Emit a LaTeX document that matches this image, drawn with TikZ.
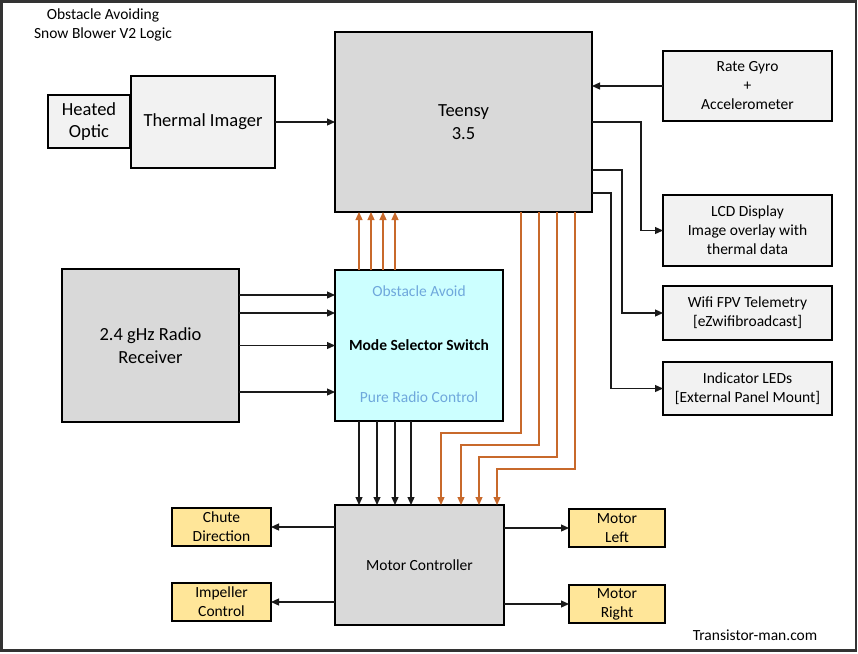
\documentclass[tikz,border=0pt]{standalone}
\usepackage{fontspec}
\setmainfont{Carlito}
\usetikzlibrary{arrows.meta}
\definecolor{gfill}{HTML}{D9D9D9}
\definecolor{lfill}{HTML}{F2F2F2}
\definecolor{yfill}{HTML}{FFE699}
\definecolor{cfill}{HTML}{CCFFFF}
\definecolor{oline}{HTML}{C8692B}
\definecolor{btxt}{HTML}{6FA8DC}
\definecolor{cline}{HTML}{1A1A1A}
\tikzset{
  box/.style={draw=black, line width=2pt, outer sep=0pt, inner sep=2pt, align=center},
  bigtxt/.style={font=\fontsize{18.5}{22.6}\selectfont},
  smtxt/.style={font=\fontsize{15.5}{19}\selectfont},
  conn/.style={draw=cline, line width=1.2pt, -{Triangle[length=8pt,width=7pt]}},
  oconn/.style={draw=oline, line width=1.2pt, -{Triangle[length=8pt,width=7pt]}}
}
\begin{document}
\begin{tikzpicture}[x=1pt,y=-1pt]
\useasboundingbox (0,0) rectangle (858,653);
\draw[line width=2.5pt, color=black!80] (1.5,1.5) rectangle (856,650.5);

\node[smtxt, align=center] (title) at (103,24.5) {Obstacle Avoiding\\Snow Blower V2 Logic};

\node[box, bigtxt, fill=lfill, minimum width=82pt, minimum height=53pt] (ho) at (89,121.5) {Heated\\Optic};
\node[box, bigtxt, fill=lfill, minimum width=144pt, minimum height=92pt] (ti) at (203,122) {Thermal Imager};
\node[box, bigtxt, fill=gfill, minimum width=257pt, minimum height=180pt] (teensy) at (463.5,122) {Teensy\\3.5};

\node[box, smtxt, fill=lfill, minimum width=169pt, minimum height=70pt] (gyro) at (747.5,86) {Rate Gyro\\+\\Accelerometer};
\node[box, smtxt, fill=lfill, minimum width=169pt, minimum height=71pt] (lcd) at (747.5,230.5) {LCD Display\\Image overlay with\\thermal data};
\node[box, smtxt, fill=lfill, minimum width=169pt, minimum height=54pt] (wifi) at (747.5,313) {Wifi FPV Telemetry\\{[}eZwifibroadcast{]}};
\node[box, smtxt, fill=lfill, minimum width=169pt, minimum height=53pt] (led) at (747.5,388.5) {Indicator LEDs\\{[}External Panel Mount{]}};

\node[box, bigtxt, fill=gfill, minimum width=177pt, minimum height=153pt] (radio) at (150.5,345.5) {2.4 gHz Radio\\Receiver};
\node[box, fill=cfill, minimum width=168pt, minimum height=151pt] (ms) at (419,345.5) {};
\node[smtxt, text=btxt] (msa) at (419,291) {Obstacle Avoid};
\node[smtxt, font=\fontsize{15.5}{19}\selectfont\bfseries] (msm) at (419,345) {Mode Selector Switch};
\node[smtxt, text=btxt] (msp) at (419,397) {Pure Radio Control};

\node[box, smtxt, fill=gfill, minimum width=169pt, minimum height=120pt] (mc) at (419.5,565) {Motor Controller};
\node[box, smtxt, fill=yfill, minimum width=99pt, minimum height=38pt] (chute) at (221.5,527) {Chute\\Direction};
\node[box, smtxt, fill=yfill, minimum width=99pt, minimum height=38pt] (imp) at (221.5,602) {Impeller\\Control};
\node[box, smtxt, fill=yfill, minimum width=96pt, minimum height=38pt] (ml) at (617,528) {Motor\\Left};
\node[box, smtxt, fill=yfill, minimum width=96pt, minimum height=38pt] (mr) at (617,604) {Motor\\Right};

\node[smtxt] (credit) at (755,635) {Transistor-man.com};

% connectors
\draw[conn] (ti.east) -- (teensy.west);
\draw[conn] (gyro.west) -- (gyro.west -| teensy.east);
\draw[conn] (teensy.east) -| ([xshift=-22pt]lcd.west) -- (lcd.west);
\draw[conn] ([yshift=-48pt]teensy.east) -| ([xshift=-41pt]wifi.west) -- (wifi.west);
\draw[conn] ([yshift=-71pt]teensy.east) -| ([xshift=-52pt]led.west) -- (led.west);

\foreach \dy in {50.5,32.5,0,-46.5}
  \draw[conn] ([yshift=\dy pt]radio.east) -- ([yshift=\dy pt]ms.west);

\foreach \dx in {24,36,48,60}
  \draw[oconn] ([xshift=\dx pt]ms.north west) -- ([xshift=\dx pt]teensy.south west);

\foreach \dx in {24,42,60,76}
  \draw[conn] ([xshift=\dx pt]ms.south west) -- ([xshift=\dx pt]mc.north west);

\foreach \sx/\hy/\ex in {186/72/106, 204/60/126, 222/48/144, 240/36/162}
  \draw[oconn] ([xshift=\sx pt]teensy.south west) |- ([xshift=\ex pt, yshift=\hy pt]mc.north west) -- ([xshift=\ex pt]mc.north west);

\draw[conn] ([yshift=38pt]mc.west) -- (chute.east);
\draw[conn] ([yshift=-37pt]mc.west) -- (imp.east);
\draw[conn] ([yshift=37pt]mc.east) -- (ml.west);
\draw[conn] ([yshift=-39pt]mc.east) -- (mr.west);
\end{tikzpicture}
\end{document}
